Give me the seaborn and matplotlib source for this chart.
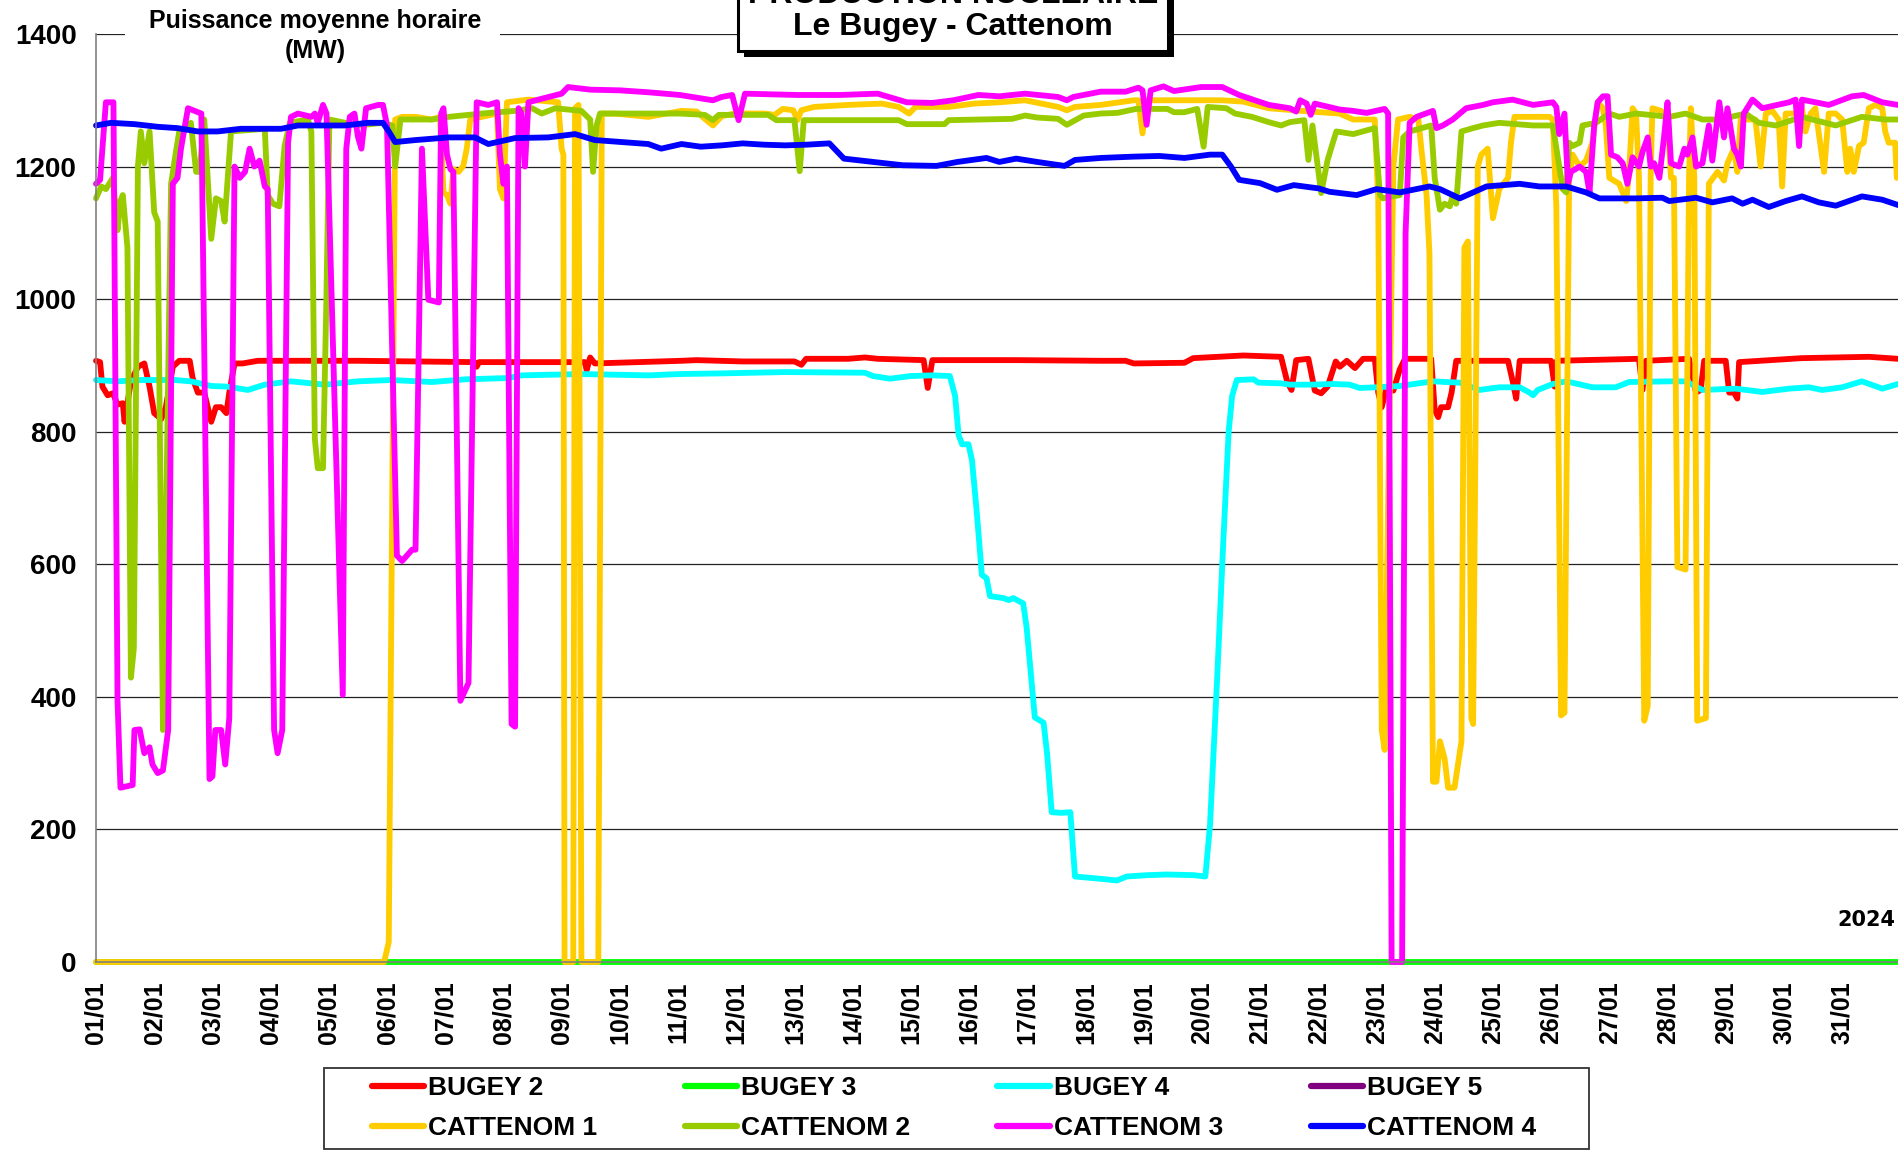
import pandas as pd
import matplotlib
matplotlib.use("Agg")
import matplotlib.pyplot as plt
from matplotlib.lines import Line2D
from matplotlib.patches import Rectangle
import seaborn as sns

# hourly mean power, January 2024 -- (days since 01/01 00:00, MW)
bugey2 = [(0, 907), (0.07, 905), (0.11, 868), (0.2, 855), (0.29, 858), (0.37, 841), (0.46, 843), (0.49, 815),
          (0.6, 876), (0.72, 898), (0.83, 903), (0.92, 868), (1.0, 828), (1.12, 819), (1.2, 837), (1.32, 898),
          (1.43, 907), (1.61, 907), (1.66, 881), (1.75, 859), (1.86, 859), (1.98, 815), (2.06, 837), (2.15, 837),
          (2.24, 828), (2.29, 859), (2.38, 903), (2.52, 903), (2.78, 907), (4.5, 907), (6.5, 905), (6.54, 898),
          (6.58, 905), (8.4, 905), (8.43, 893), (8.49, 912), (8.57, 903), (10.06, 907), (10.32, 908), (11.11, 906),
          (12.0, 906), (12.12, 901), (12.2, 910), (12.92, 910), (13.21, 912), (13.43, 910), (14.22, 908),
          (14.29, 866), (14.37, 908), (15.81, 908), (17.26, 907), (17.69, 907), (17.83, 903), (18.7, 904),
          (18.85, 911), (19.71, 915), (20.36, 913), (20.47, 874), (20.54, 863), (20.62, 908), (20.83, 910),
          (20.94, 862), (21.05, 858), (21.16, 868), (21.3, 906), (21.37, 898), (21.49, 907), (21.63, 896),
          (21.77, 910), (21.97, 910), (22.03, 859), (22.09, 837), (22.17, 866), (22.29, 862), (22.4, 894),
          (22.49, 910), (22.94, 910), (23.0, 833), (23.06, 822), (23.11, 837), (23.23, 837), (23.29, 859),
          (23.37, 907), (24.26, 907), (24.34, 876), (24.4, 850), (24.46, 907), (25.0, 907), (25.06, 868),
          (25.1, 907), (26.51, 910), (26.57, 863), (26.63, 907), (27.37, 910), (27.49, 859), (27.57, 863),
          (27.63, 907), (28.0, 907), (28.06, 859), (28.14, 859), (28.2, 850), (28.23, 905), (29.31, 911),
          (30.46, 913), (30.96, 910)]

bugey3 = [(0, 0), (30.96, 0)]

bugey4 = [(0, 878), (0.37, 876), (0.77, 878), (1.35, 878), (1.63, 876), (1.98, 869), (2.26, 868), (2.61, 863),
          (2.9, 871), (3.35, 876), (3.93, 871), (4.5, 876), (5.07, 878), (5.77, 875), (6.34, 879), (7.09, 881),
          (7.31, 885), (8.34, 887), (9.49, 885), (10.03, 887), (10.75, 888), (11.84, 890), (13.21, 889),
          (13.35, 884), (13.64, 880), (14.0, 884), (14.37, 885), (14.67, 884), (14.76, 854), (14.82, 795),
          (14.88, 781), (14.99, 781), (15.05, 757), (15.13, 681), (15.22, 584), (15.3, 579), (15.36, 552),
          (15.59, 549), (15.68, 546), (15.76, 549), (15.93, 541), (15.99, 504), (16.13, 369), (16.28, 361),
          (16.34, 315), (16.42, 226), (16.59, 225), (16.74, 226), (16.82, 129), (17.2, 126), (17.54, 123),
          (17.71, 129), (18.06, 131), (18.4, 132), (18.86, 131), (19.06, 129), (19.14, 207), (19.26, 423),
          (19.37, 638), (19.46, 800), (19.52, 854), (19.6, 878), (19.89, 879), (19.97, 874), (20.36, 873),
          (20.51, 871), (20.87, 871), (21.26, 872), (21.54, 871), (21.71, 866), (22.0, 867), (22.4, 869),
          (22.97, 876), (23.43, 874), (23.77, 863), (24.11, 867), (24.46, 867), (24.63, 859), (24.69, 855),
          (24.77, 863), (25.03, 872), (25.26, 876), (25.71, 867), (26.11, 867), (26.34, 875), (27.03, 876),
          (27.31, 876), (27.6, 863), (28.17, 865), (28.63, 860), (29.09, 865), (29.43, 867), (29.66, 863),
          (30.0, 867), (30.34, 876), (30.69, 865), (30.96, 872)]

cattenom1 = [(0, 0), (4.95, 0), (5.03, 30), (5.14, 1271), (5.26, 1275), (5.49, 1275), (5.77, 1271), (5.91, 1275),
             (5.97, 1161), (6.03, 1157), (6.09, 1144), (6.14, 1196), (6.23, 1192), (6.31, 1201), (6.37, 1227),
             (6.43, 1271), (6.63, 1275), (6.89, 1280), (6.94, 1166), (7.0, 1152), (7.06, 1297), (7.43, 1301),
             (7.94, 1297), (8.0, 1227), (8.03, 1218), (8.05, 0), (8.2, 0), (8.23, 1288), (8.29, 1293), (8.34, 0),
             (8.63, 0), (8.69, 1280), (8.91, 1280), (9.49, 1275), (10.06, 1284), (10.32, 1283), (10.46, 1272),
             (10.6, 1262), (10.75, 1276), (10.97, 1280), (11.48, 1280), (11.66, 1278), (11.8, 1287), (11.98, 1285),
             (12.05, 1270), (12.12, 1285), (12.34, 1290), (12.92, 1293), (13.5, 1295), (13.79, 1290),
             (13.97, 1280), (14.08, 1290), (14.65, 1290), (15.09, 1295), (15.52, 1297), (15.96, 1300),
             (16.53, 1290), (16.68, 1285), (16.82, 1290), (17.26, 1293), (17.83, 1300), (17.91, 1300),
             (17.98, 1250), (18.05, 1300), (18.99, 1300), (19.35, 1300), (19.71, 1298), (20.15, 1288),
             (20.58, 1285), (20.87, 1283), (21.36, 1280), (21.6, 1271), (21.97, 1271), (22.03, 1150), (22.09, 350),
             (22.14, 320), (22.2, 700), (22.29, 1200), (22.37, 1271), (22.57, 1275), (22.72, 1271), (22.77, 1227),
             (22.86, 1157), (22.91, 1069), (22.97, 272), (23.03, 272), (23.09, 333), (23.17, 307), (23.23, 263),
             (23.34, 263), (23.46, 333), (23.51, 1078), (23.57, 1087), (23.63, 368), (23.66, 359), (23.74, 1200),
             (23.8, 1218), (23.91, 1227), (24.0, 1122), (24.11, 1166), (24.26, 1183), (24.31, 1236),
             (24.37, 1275), (24.63, 1275), (24.97, 1275), (25.03, 1271), (25.09, 1139), (25.17, 372),
             (25.23, 376), (25.31, 1183), (25.37, 1218), (25.49, 1200), (25.6, 1209), (25.71, 1236), (25.8, 1297),
             (25.89, 1288), (25.94, 1262), (26.0, 1183), (26.17, 1174), (26.29, 1148), (26.34, 1192),
             (26.4, 1288), (26.46, 1280), (26.51, 1183), (26.6, 364), (26.66, 386), (26.71, 1183), (26.74, 1288),
             (26.89, 1284), (27.0, 1271), (27.06, 1183), (27.11, 1183), (27.17, 596), (27.31, 592), (27.37, 1183),
             (27.4, 1288), (27.46, 1183), (27.51, 364), (27.66, 368), (27.71, 1174), (27.86, 1192), (27.97, 1179),
             (28.03, 1205), (28.14, 1227), (28.2, 1192), (28.26, 1275), (28.34, 1271), (28.51, 1271), (28.6, 1200),
             (28.69, 1280), (28.8, 1284), (28.91, 1271), (28.97, 1170), (29.03, 1280), (29.23, 1280),
             (29.31, 1288), (29.37, 1253), (29.46, 1280), (29.54, 1288), (29.69, 1192), (29.77, 1280),
             (29.89, 1280), (30.0, 1271), (30.09, 1192), (30.14, 1227), (30.2, 1192), (30.29, 1231), (30.37, 1236),
             (30.46, 1288), (30.57, 1293), (30.69, 1288), (30.74, 1253), (30.8, 1236), (30.91, 1236),
             (30.94, 1183), (30.96, 1227)]

cattenom2 = [(0, 1152), (0.09, 1170), (0.17, 1166), (0.29, 1183), (0.37, 1104), (0.42, 1148), (0.46, 1157),
             (0.54, 1078), (0.6, 429), (0.65, 473), (0.72, 1200), (0.77, 1253), (0.83, 1205), (0.92, 1253),
             (1.0, 1131), (1.06, 1117), (1.15, 350), (1.29, 1174), (1.35, 1209), (1.43, 1253), (1.63, 1266),
             (1.72, 1192), (1.78, 1192), (1.86, 1271), (1.98, 1091), (2.06, 1152), (2.15, 1148), (2.21, 1117),
             (2.32, 1253), (2.9, 1257), (2.95, 1157), (3.04, 1144), (3.15, 1140), (3.24, 1231), (3.33, 1266),
             (3.64, 1271), (3.7, 1253), (3.76, 789), (3.81, 745), (3.9, 745), (3.96, 1007), (4.01, 1271),
             (4.5, 1262), (4.93, 1266), (5.09, 1262), (5.14, 1200), (5.23, 1271), (5.77, 1271), (6.06, 1275),
             (6.63, 1280), (7.2, 1284), (7.49, 1288), (7.66, 1280), (7.89, 1288), (8.34, 1284), (8.49, 1271),
             (8.54, 1192), (8.6, 1262), (8.66, 1280), (9.49, 1280), (10.03, 1280), (10.46, 1278), (10.6, 1270),
             (10.7, 1278), (11.55, 1278), (11.69, 1270), (12.0, 1270), (12.09, 1193), (12.16, 1270),
             (13.79, 1270), (13.93, 1264), (14.58, 1264), (14.65, 1270), (15.74, 1272), (15.96, 1277),
             (16.17, 1274), (16.53, 1272), (16.68, 1263), (16.97, 1277), (17.26, 1280), (17.55, 1281),
             (17.87, 1287), (18.41, 1287), (18.52, 1282), (18.7, 1282), (18.92, 1287), (19.03, 1230),
             (19.1, 1290), (19.42, 1288), (19.57, 1280), (19.86, 1275), (20.15, 1267), (20.36, 1262),
             (20.51, 1267), (20.76, 1270), (20.83, 1210), (20.9, 1262), (21.05, 1160), (21.16, 1210),
             (21.31, 1253), (21.6, 1249), (21.97, 1258), (22.06, 1157), (22.11, 1152), (22.4, 1157), (22.46, 1244),
             (22.57, 1253), (22.94, 1262), (23.0, 1183), (23.09, 1135), (23.17, 1144), (23.26, 1140),
             (23.31, 1157), (23.37, 1144), (23.46, 1253), (23.66, 1258), (23.83, 1262), (24.11, 1266),
             (24.69, 1262), (25.03, 1262), (25.2, 1166), (25.26, 1161), (25.31, 1236), (25.37, 1231),
             (25.49, 1236), (25.54, 1262), (25.77, 1266), (26.0, 1280), (26.17, 1275), (26.46, 1280),
             (27.03, 1275), (27.31, 1280), (27.6, 1271), (27.89, 1271), (28.34, 1280), (28.57, 1266),
             (28.86, 1262), (29.31, 1275), (29.89, 1262), (30.34, 1275), (30.74, 1271), (30.96, 1271)]

cattenom3 = [(0, 1174), (0.07, 1180), (0.17, 1297), (0.3, 1297), (0.37, 394), (0.42, 263), (0.63, 267), (0.66, 350),
             (0.75, 351), (0.83, 315), (0.92, 324), (0.97, 298), (1.06, 285), (1.15, 289), (1.24, 350),
             (1.32, 1174), (1.4, 1183), (1.46, 1227), (1.58, 1288), (1.81, 1280), (1.95, 276), (2.0, 280),
             (2.05, 350), (2.15, 350), (2.22, 298), (2.29, 368), (2.38, 1200), (2.47, 1183), (2.56, 1192),
             (2.64, 1227), (2.72, 1200), (2.81, 1209), (2.9, 1170), (2.95, 1166), (3.06, 350), (3.12, 315),
             (3.2, 350), (3.3, 1236), (3.35, 1275), (3.47, 1280), (3.7, 1275), (3.76, 1280), (3.81, 1266),
             (3.9, 1293), (3.96, 1280), (4.24, 403), (4.3, 1227), (4.36, 1275), (4.44, 1280), (4.5, 1245),
             (4.56, 1227), (4.64, 1288), (4.85, 1293), (4.93, 1293), (5.0, 1262), (5.17, 613), (5.26, 605),
             (5.43, 622), (5.49, 622), (5.6, 1227), (5.71, 999), (5.89, 995), (5.93, 1280), (5.97, 1288),
             (6.03, 1218), (6.09, 1196), (6.14, 1192), (6.26, 394), (6.4, 421), (6.54, 1297), (6.74, 1293),
             (6.89, 1297), (6.94, 1218), (7.0, 1174), (7.06, 1200), (7.14, 359), (7.2, 355), (7.26, 1288),
             (7.31, 1280), (7.37, 1200), (7.43, 1297), (7.6, 1301), (8.0, 1310), (8.11, 1320), (8.5, 1316),
             (9.0, 1315), (9.5, 1312), (10.03, 1308), (10.6, 1300), (10.75, 1305), (10.93, 1308), (11.04, 1270),
             (11.15, 1310), (12.05, 1308), (12.78, 1308), (13.43, 1310), (13.93, 1297), (14.37, 1296),
             (14.73, 1300), (15.16, 1308), (15.52, 1306), (15.96, 1310), (16.53, 1305), (16.68, 1300),
             (16.79, 1305), (17.26, 1313), (17.69, 1313), (17.91, 1319), (17.98, 1315), (18.05, 1263),
             (18.12, 1315), (18.34, 1321), (18.52, 1314), (18.99, 1320), (19.35, 1320), (19.64, 1308),
             (20.15, 1293), (20.51, 1288), (20.62, 1283), (20.69, 1300), (20.8, 1295), (20.87, 1278),
             (20.94, 1295), (21.37, 1286), (21.6, 1284), (21.83, 1281), (22.14, 1287), (22.2, 1280), (22.26, 0),
             (22.44, 0), (22.5, 1100), (22.57, 1266), (22.69, 1275), (22.97, 1284), (23.03, 1258), (23.14, 1262),
             (23.31, 1271), (23.54, 1288), (23.83, 1293), (24.0, 1297), (24.34, 1301), (24.69, 1293),
             (25.03, 1297), (25.09, 1290), (25.14, 1249), (25.23, 1280), (25.29, 1174), (25.34, 1192),
             (25.49, 1200), (25.6, 1192), (25.66, 1161), (25.74, 1262), (25.8, 1297), (25.89, 1306),
             (25.97, 1306), (26.03, 1218), (26.14, 1214), (26.23, 1205), (26.31, 1174), (26.4, 1214),
             (26.51, 1200), (26.57, 1222), (26.66, 1244), (26.71, 1200), (26.77, 1205), (26.86, 1183),
             (26.94, 1244), (27.0, 1297), (27.06, 1205), (27.2, 1200), (27.29, 1227), (27.34, 1218),
             (27.43, 1244), (27.49, 1200), (27.6, 1205), (27.71, 1262), (27.77, 1209), (27.89, 1297),
             (27.97, 1244), (28.03, 1288), (28.14, 1227), (28.2, 1218), (28.26, 1200), (28.31, 1280),
             (28.46, 1301), (28.63, 1288), (29.09, 1297), (29.2, 1301), (29.26, 1231), (29.31, 1301),
             (29.77, 1293), (30.17, 1306), (30.37, 1308), (30.69, 1297), (30.96, 1293)]

cattenom4 = [(0, 1262), (0.26, 1266), (0.66, 1264), (1.06, 1260), (1.4, 1258), (1.75, 1253), (2.09, 1253),
             (2.49, 1257), (2.9, 1257), (3.18, 1257), (3.47, 1262), (3.81, 1262), (4.27, 1262), (4.67, 1266),
             (4.93, 1266), (5.03, 1253), (5.14, 1237), (5.49, 1240), (6.06, 1244), (6.51, 1244), (6.74, 1234),
             (7.2, 1243), (7.77, 1244), (8.23, 1249), (8.57, 1240), (9.03, 1237), (9.49, 1234), (9.71, 1227),
             (10.06, 1234), (10.39, 1230), (10.75, 1232), (11.11, 1235), (11.48, 1233), (11.84, 1232),
             (12.2, 1233), (12.6, 1235), (12.85, 1212), (13.35, 1207), (13.86, 1202), (14.44, 1201),
             (14.8, 1207), (15.3, 1213), (15.52, 1207), (15.81, 1212), (16.17, 1207), (16.64, 1201),
             (16.82, 1210), (17.26, 1213), (17.83, 1215), (18.27, 1216), (18.7, 1213), (19.14, 1218),
             (19.35, 1218), (19.5, 1200), (19.64, 1180), (20.0, 1175), (20.29, 1165), (20.58, 1172),
             (21.01, 1167), (21.19, 1162), (21.66, 1157), (22.0, 1166), (22.4, 1161), (22.91, 1170),
             (23.09, 1166), (23.43, 1152), (23.89, 1170), (24.46, 1174), (24.8, 1170), (25.26, 1170),
             (25.6, 1161), (25.83, 1152), (26.46, 1152), (26.91, 1153), (27.03, 1148), (27.49, 1153),
             (27.77, 1146), (28.11, 1152), (28.29, 1144), (28.46, 1150), (28.74, 1139), (29.03, 1148),
             (29.31, 1155), (29.6, 1146), (29.89, 1141), (30.34, 1155), (30.69, 1150), (30.96, 1142)]

series = {"BUGEY 2": bugey2, "BUGEY 3": bugey3, "BUGEY 4": bugey4,
          "CATTENOM 1": cattenom1, "CATTENOM 2": cattenom2, "CATTENOM 3": cattenom3, "CATTENOM 4": cattenom4}
colors = {"BUGEY 2": "#FF0000", "BUGEY 3": "#00FF00", "BUGEY 4": "#00FFFF", "BUGEY 5": "#800080",
          "CATTENOM 1": "#FFCC00", "CATTENOM 2": "#99CC00", "CATTENOM 3": "#FF00FF", "CATTENOM 4": "#0000FF"}
legend_order = ["BUGEY 2", "CATTENOM 1", "BUGEY 3", "CATTENOM 2", "BUGEY 4", "CATTENOM 3", "BUGEY 5", "CATTENOM 4"]
day_labels = [f"{d:02d}/01" for d in range(1, 32)]

rows = []
for name, pts in series.items():
    for day, mw in pts:
        rows.append({"jour": day, "MW": mw, "tranche": name})
df = pd.DataFrame(rows)

sns.set_style("white")
plt.rcParams["font.family"] = ["Liberation Sans", "DejaVu Sans"]
plt.rcParams["font.weight"] = "bold"
plt.rcParams["text.color"] = "black"

W, H = 1898, 1153
fig = plt.figure(figsize=(W / 100, H / 100), dpi=100)
ax = fig.add_axes([96 / W, 1 - 962 / H, 1 - 96 / W, (962 - 34) / H])

sns.lineplot(data=df, x="jour", y="MW", hue="tranche", hue_order=list(series.keys()), palette=colors,
             estimator=None, sort=False, legend=False, linewidth=4.2, ax=ax,
             clip_on=False, solid_joinstyle="round")

ax.set_xlim(0, 30.96)
ax.set_ylim(0, 1400)
ax.set_xticks(range(31))
ax.set_xticklabels(day_labels, rotation=90, fontsize=18, fontweight="bold")
ax.set_yticks(range(0, 1401, 200))
ax.set_yticklabels([str(v) for v in range(0, 1401, 200)], fontsize=20, fontweight="bold")
ax.tick_params(axis="both", direction="out", length=5, width=1, color="#808080", labelcolor="black", pad=9)
ax.set_xlabel("")
ax.set_ylabel("")
ax.yaxis.grid(True, color="#222222", linewidth=0.9)
ax.set_axisbelow(True)
for side in ["top", "right"]:
    ax.spines[side].set_visible(False)
for side in ["left", "bottom"]:
    ax.spines[side].set_color("#808080")
    ax.spines[side].set_linewidth(1.2)

# y unit label with white background over the top gridline
fig.add_artist(Rectangle((125 / W, 1 - 66 / H), 375 / W, 66 / H, transform=fig.transFigure,
                         facecolor="white", edgecolor="none", zorder=2))
fig.text(315 / W, 1 - 36 / H, "Puissance moyenne horaire\n(MW)", ha="center", va="center",
         fontsize=18, fontweight="bold", linespacing=1.35, zorder=3)

# title box (top cut by the picture edge), with shadow
fig.add_artist(Rectangle((744 / W, 1 - 57 / H), 430 / W, 80 / H, transform=fig.transFigure,
                         facecolor="black", edgecolor="none", zorder=2))
fig.add_artist(Rectangle((738 / W, 1 - 51 / H), 430 / W, 80 / H, transform=fig.transFigure,
                         facecolor="white", edgecolor="black", linewidth=2.2, zorder=2))
fig.text(953 / W, 1 - 27 / H, "Le Bugey - Cattenom", ha="center", va="center",
         fontsize=23, fontweight="bold", zorder=3)
fig.text(953 / W, 1 + 5 / H, "PRODUCTION NUCLEAIRE", ha="center", va="center",
         fontsize=23, fontweight="bold", zorder=3)

fig.text(1895 / W, 1 - 920 / H, "2024", ha="right", va="center", fontsize=15,
         fontweight="bold", family="DejaVu Sans")

# legend with a plain rectangular frame
fig.add_artist(Rectangle((324 / W, 1 - 1149 / H), 1265 / W, 81 / H, transform=fig.transFigure,
                         facecolor="white", edgecolor="#333333", linewidth=1.3, zorder=1))
handles = [Line2D([], [], color=colors[n], linewidth=4.5, solid_capstyle="round") for n in legend_order]
fig.legend(handles, legend_order, loc="center", bbox_to_anchor=(954 / W, 1 - 1108 / H), ncol=4,
           frameon=False, prop={"size": 19, "weight": "bold"}, labelcolor="black", handlelength=2.0,
           handletextpad=0.15, columnspacing=3.3, labelspacing=0.6, borderpad=0)

fig.savefig("out.png", dpi=100)
